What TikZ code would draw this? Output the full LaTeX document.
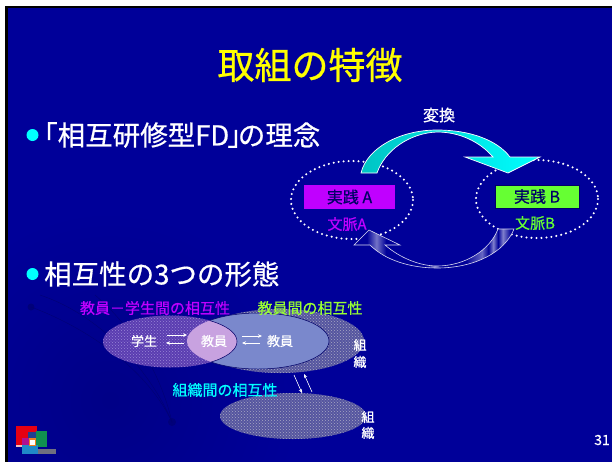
\documentclass[tikz,border=0pt]{standalone}
\usepackage{fontspec}
\setmainfont[FakeBold=0.6]{Noto Sans CJK JP}
\usetikzlibrary{arrows.meta,patterns}
\definecolor{bg}{HTML}{000099}
\definecolor{mag}{HTML}{C000FF}
\definecolor{grn}{HTML}{66FF33}
\definecolor{lgrn}{HTML}{99FF33}
\definecolor{cyn}{HTML}{00FFFF}
\definecolor{teal1}{HTML}{00C4C4}
\definecolor{yel}{HTML}{FFFF00}
\definecolor{navy}{HTML}{000066}
\definecolor{purp}{HTML}{5A3DB0}
\definecolor{purpd}{HTML}{9A85D8}
\definecolor{grey1}{HTML}{55559F}
\definecolor{grey2}{HTML}{A8A8C4}
\definecolor{blu1}{HTML}{7A88CC}
\definecolor{lens}{HTML}{C8A2E0}
\definecolor{lred}{HTML}{E60012}
\definecolor{lgreen}{HTML}{109050}
\definecolor{lblue}{HTML}{2088C8}
\definecolor{lnavy}{HTML}{204090}
\definecolor{lorange}{HTML}{F08020}
\definecolor{lmag}{HTML}{B01090}
\definecolor{lgray}{HTML}{707080}
\definecolor{lpink}{HTML}{F0C0C0}
\pgfdeclarehorizontalshading{stripes}{100bp}{
 color(0bp)=(bg); color(29bp)=(bg); color(32bp)=(bg!55!white); color(35bp)=(bg);
 color(48bp)=(bg); color(50bp)=(bg!50!white); color(52bp)=(bg);
 color(60bp)=(bg); color(65bp)=(bg!60!white); color(67bp)=(bg); color(68.5bp)=(bg!50!white); color(70bp)=(bg); color(71.5bp)=(bg!50!white); color(74bp)=(bg); color(100bp)=(bg)}
\tikzset{
 x=1pt,y=-1pt,
 ttl/.style={font=\fontsize{#1}{#1}\selectfont,inner sep=0pt,text=white},
 dotring/.style={draw=white,line width=2.3pt,dash pattern=on 0pt off 5pt,line cap=round},
 pfeil/.style={-{Stealth[length=4pt,width=3.5pt]},white,line width=.6pt},
 bul/.style={circle,fill=cyn,inner sep=0pt,minimum size=12pt}
}
\begin{document}
\begin{tikzpicture}
\useasboundingbox (0,0) rectangle (612,461);
\fill[white] (0,0) rectangle (612,461);
\fill[black] (5,6) rectangle (613,463);
\fill[bg] (8,8) rectangle (613,463);
\begin{scope}
\clip (8,8) rectangle (613,463);
\shade[inner color=bg!88!black,outer color=bg] (110,400) circle[radius=190];
\end{scope}
% faint background curves
\coordinate (c1) at (31,307); \coordinate (c2) at (172,422);
\fill[bg!80!black] (c1) circle[radius=3.5];
\fill[bg!80!black] (c2) circle[radius=4];
\draw[bg!75!black,line width=.4pt] (40,295) .. controls (100,315) and (150,370) .. (c2);
\draw[bg!75!black,line width=.4pt] (c1) .. controls (80,325) and (145,365) .. (c2);
\draw[bg!75!black,line width=.4pt] (95,295) .. controls (130,325) and (160,370) .. (c2);
% title
\node[ttl=37,text=yel] (title) at (310,65) {取組の特徴};
\node[bul] (b1) at (32.5,135) {};
\node[ttl=27.5,anchor=west] (t1) at (30,135) {「相互研修型FD\hspace{-2pt}」\hspace{-17pt}の理念};
\node[bul] (b2) at (32.5,274) {};
\node[ttl=27.5,anchor=west] (t2) at (44,274) {相互性の3つの形態};
% practice diagram
\node[ttl=16] (hen) at (439,115) {変換};
\draw[dotring] (352,200) ellipse[x radius=61,y radius=39];
\draw[dotring] (537,199) ellipse[x radius=61,y radius=39];
\node[fill=mag,minimum width=91pt,minimum height=24pt,inner sep=0pt,text=navy,font=\fontsize{16}{16}\selectfont] (pa) at (349.5,197) {実践 A};
\node[fill=grn,draw=navy,line width=.5pt,minimum width=84pt,minimum height=23pt,inner sep=0pt,text=navy,font=\fontsize{16}{16}\selectfont] (pb) at (537,196.5) {実践 B};
\node[ttl=15,text=mag] (ca) at (347,224) {文脈A};
\node[ttl=15,text=grn] (cb) at (535,223) {文脈B};
% top arrow
\shade[left color=teal1,right color=cyn,draw=white,line width=.7pt]
 (361,173) .. controls (367,148) and (400,130) .. (437,130)
 .. controls (470,130) and (497,140) .. (510,157) -- (540,157) -- (508,173) -- (465,157) -- (493,157)
 .. controls (480,142) and (460,132) .. (437,132)
 .. controls (410,133) and (385,150) .. (377,173) -- cycle;
% bottom arrow
\path[shading=stripes,draw=white!85!bg,line width=.6pt]
 (514,229) .. controls (505,252) and (475,268) .. (437,268)
 .. controls (410,268) and (385,260) .. (370,245) -- (354,245) -- (369,230) -- (400,245) -- (385,245)
 .. controls (400,258) and (420,266) .. (437,266)
 .. controls (465,266) and (490,250) .. (498,229) -- cycle;
% ellipses lower
\fill[pattern color=grey2,pattern=crosshatch dots,preaction={fill=grey1}] (280,341) ellipse[x radius=84,y radius=32];
\draw[navy,line width=.5pt,fill=blu1] (258,341) ellipse[x radius=71,y radius=28];
\fill[pattern color=purpd,pattern=crosshatch dots,preaction={fill=purp}] (170,341.5) ellipse[x radius=67,y radius=26];
\begin{scope}
\clip (258,341) ellipse[x radius=71,y radius=28];
\fill[lens] (170,341.5) ellipse[x radius=67,y radius=26];
\draw[navy,line width=.5pt] (170,341.5) ellipse[x radius=67,y radius=26];
\end{scope}
\fill[pattern color=grey2,pattern=crosshatch dots,preaction={fill=grey1}] (293,416) ellipse[x radius=73,y radius=23];
% labels lower
\node[ttl=15,text=mag] (l1) at (155,308) {教員－学生間の相互性};
\node[ttl=15,text=lgrn] (l2) at (310,308) {教員間の相互性};
\node[ttl=15,text=cyn] (l3) at (225,390) {組織間の相互性};
\node[ttl=13] (s) at (144,341) {学生};
\node[ttl=13] (f1) at (214,341) {教員};
\node[ttl=13] (f2) at (280,341) {教員};
\node[ttl=13] (o1) at (360,345) {組};
\node[ttl=13] (o2) at (360,362) {織};
\node[ttl=13] (o3) at (368,417) {組};
\node[ttl=13] (o4) at (368,433) {織};
\node[ttl=14] (num) at (602,440) {31};
% small arrows
\coordinate (a1) at (167,335); \coordinate (a2) at (187,335);
\coordinate (a3) at (184,343); \coordinate (a4) at (166,343);
\coordinate (a5) at (242,336); \coordinate (a6) at (262,336);
\coordinate (a7) at (260,343); \coordinate (a8) at (242,343);
\coordinate (a9) at (294,375); \coordinate (a10) at (302,393);
\coordinate (a11) at (312,392); \coordinate (a12) at (304,374);
\draw[pfeil] (a1) -- (a2);
\draw[pfeil] (a3) -- (a4);
\draw[pfeil] (a5) -- (a6);
\draw[pfeil] (a7) -- (a8);
\draw[pfeil] (a9) -- (a10);
\draw[pfeil] (a11) -- (a12);
% logo
\fill[lred] (16,426) rectangle (37,445);
\fill[lpink] (16,445) rectangle (22,447);
\fill[lgreen] (36,431) rectangle (47,447);
\fill[lnavy] (28,432) rectangle (36,440);
\fill[lblue] (22,445) rectangle (38,454);
\fill[lorange] (29,438) rectangle (36,446);
\fill[white] (30,440) rectangle (35,445);
\fill[lmag] (22,438) rectangle (29,445);
\fill[lgray] (38,449) rectangle (56,454);
\end{tikzpicture}
\end{document}
